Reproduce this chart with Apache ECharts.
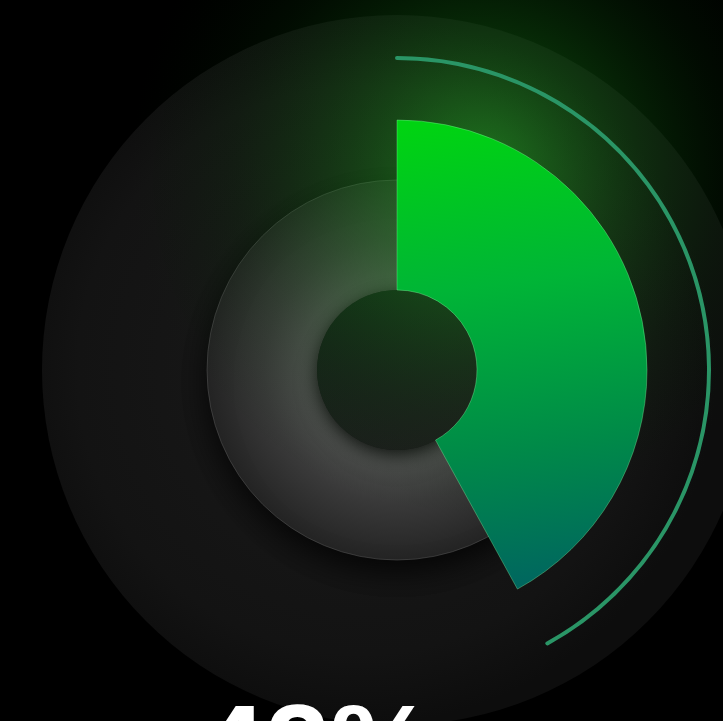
<!DOCTYPE html>
<html>
<head>
<meta charset="utf-8">
<script src="https://cdn.jsdelivr.net/npm/echarts@6/dist/echarts.min.js"></script>
<style>
  html, body { margin: 0; padding: 0; background: #000; }
  #chart { width: 723px; height: 721px; }
</style>
</head>
<body>
<div id="chart"></div>
<script>
// Progress value shown by the sector, the outer arc and the caption
const progressValue = [42];
const totalValue = [100];
const captionSuffix = ['%'];

const center = [397, 370];

const chart = echarts.init(document.getElementById('chart'), null, { renderer: 'canvas' });

const remainder = totalValue[0] - progressValue[0];

const option = {
  backgroundColor: '#000000',
  animation: false,
  title: {
    text: progressValue[0] + captionSuffix[0],
    left: 195,
    top: 690,
    textStyle: {
      color: '#ffffff',
      fontSize: 117,
      fontWeight: 'bold',
      fontFamily: 'Liberation Sans, Arial, sans-serif'
    },
    z: 10
  },
  graphic: [
    {
      // soft green glow behind the progress sector
      type: 'circle',
      z: 3,
      silent: true,
      shape: { cx: 480, cy: 170, r: 350 },
      style: {
        fill: {
          type: 'radial', x: 0.5, y: 0.5, r: 0.5,
          colorStops: [
            { offset: 0, color: 'rgba(40,200,40,0.55)' },
            { offset: 0.35, color: 'rgba(25,150,25,0.32)' },
            { offset: 0.7, color: 'rgba(10,90,10,0.12)' },
            { offset: 1, color: 'rgba(0,40,0,0)' }
          ]
        }
      }
    }
  ],
  series: [
    {
      // dark backdrop disc
      type: 'pie',
      z: 1,
      silent: true,
      center: center,
      radius: [0, 355],
      label: { show: false },
      labelLine: { show: false },
      data: [{
        value: totalValue[0],
        itemStyle: {
          color: {
            type: 'radial', x: 0.45, y: 0.5, r: 0.5,
            colorStops: [
              { offset: 0, color: '#1a1a1a' },
              { offset: 0.8, color: '#131313' },
              { offset: 1, color: '#0d0d0d' }
            ]
          }
        }
      }]
    },
    {
      // grey track ring
      type: 'pie',
      z: 2,
      silent: true,
      center: center,
      radius: [80, 190],
      label: { show: false },
      labelLine: { show: false },
      itemStyle: {
        shadowBlur: 30,
        shadowColor: 'rgba(0,0,0,0.75)',
        shadowOffsetY: 12,
        borderColor: 'rgba(90,90,90,0.5)',
        borderWidth: 1
      },
      data: [{
        value: totalValue[0],
        itemStyle: {
          color: {
            type: 'radial', x: 0.5, y: 0.5, r: 0.5,
            colorStops: [
              { offset: 0.42, color: '#535353' },
              { offset: 0.7, color: '#393939' },
              { offset: 1, color: '#242424' }
            ]
          }
        }
      }]
    },
    {
      // inner hole
      type: 'pie',
      z: 2,
      silent: true,
      center: center,
      radius: [0, 80],
      label: { show: false },
      labelLine: { show: false },
      itemStyle: {
        shadowBlur: 18,
        shadowColor: 'rgba(0,0,0,0.85)',
        shadowOffsetY: 4
      },
      data: [{
        value: totalValue[0],
        itemStyle: {
          color: {
            type: 'linear', x: 0.3, y: 0, x2: 0.7, y2: 1,
            colorStops: [
              { offset: 0, color: '#142218' },
              { offset: 1, color: '#1d1d1d' }
            ]
          }
        }
      }]
    },
    {
      // progress sector
      type: 'pie',
      z: 4,
      silent: true,
      center: center,
      radius: [80, 250],
      startAngle: 90,
      clockwise: true,
      label: { show: false },
      labelLine: { show: false },
      data: [
        {
          value: progressValue[0],
          itemStyle: {
            borderColor: 'rgba(140,255,170,0.35)',
            borderWidth: 1,
            color: {
              type: 'linear', x: 0.3, y: 0, x2: 0.55, y2: 1,
              colorStops: [
                { offset: 0, color: '#00d312' },
                { offset: 0.35, color: '#00b536' },
                { offset: 0.7, color: '#008a48' },
                { offset: 1, color: '#006560' }
              ]
            }
          }
        },
        {
          value: remainder,
          itemStyle: { color: 'rgba(0,0,0,0)' }
        }
      ]
    },
    {
      // thin outer arc
      type: 'gauge',
      z: 5,
      silent: true,
      center: center,
      radius: 314,
      startAngle: 90,
      endAngle: -270,
      min: 0,
      max: totalValue[0],
      pointer: { show: false },
      axisLine: { show: false },
      axisTick: { show: false },
      splitLine: { show: false },
      axisLabel: { show: false },
      title: { show: false },
      detail: { show: false },
      progress: {
        show: true,
        width: 4,
        roundCap: true,
        itemStyle: { color: '#2a9566' }
      },
      data: [{ value: progressValue[0] }]
    }
  ]
};

chart.setOption(option);
</script>
</body>
</html>
